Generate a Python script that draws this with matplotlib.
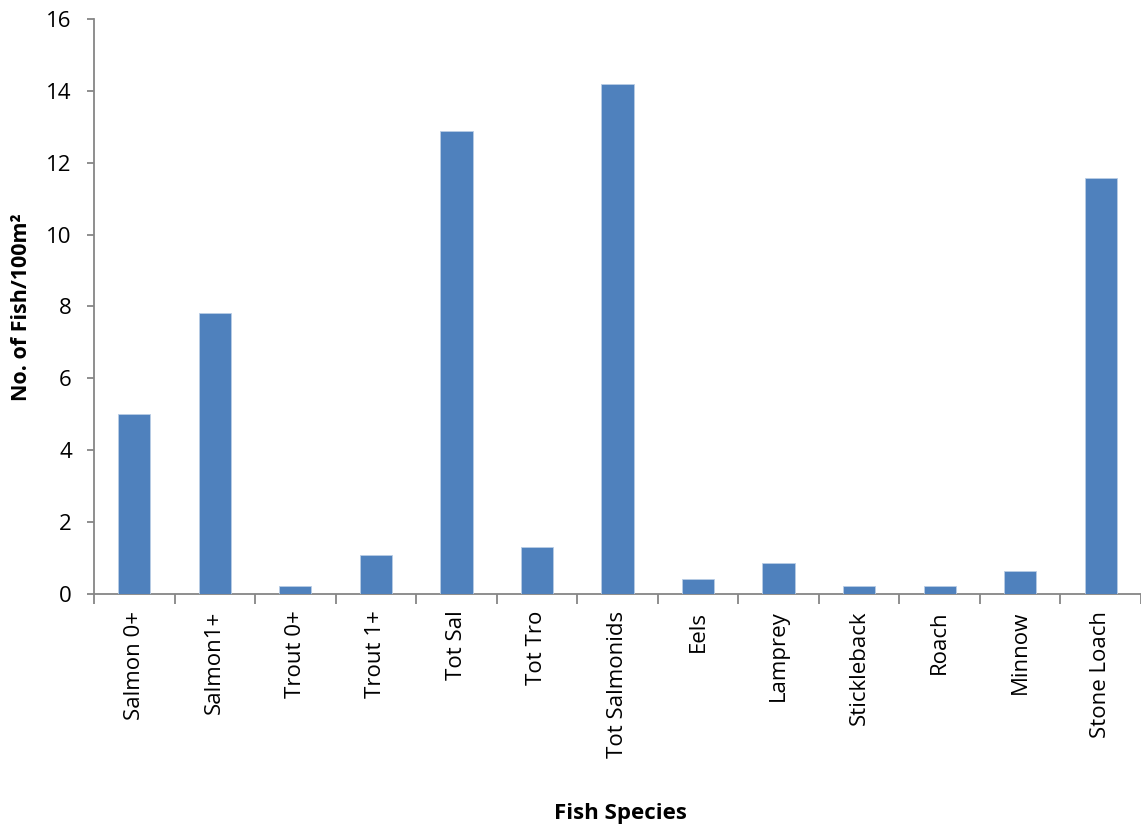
import matplotlib
matplotlib.use("Agg")
import matplotlib.pyplot as plt
import numpy as np

species = ["Salmon 0+", "Salmon1+", "Trout 0+", "Trout 1+", "Tot Sal", "Tot Tro",
           "Tot Salmonids", "Eels", "Lamprey", "Stickleback", "Roach", "Minnow",
           "Stone Loach"]
density = [5.0, 7.83, 0.22, 1.09, 12.87, 1.3, 14.18, 0.43, 0.87, 0.22, 0.22, 0.65, 11.57]
y_ticks = [0, 2, 4, 6, 8, 10, 12, 14, 16]

plt.rcParams['font.family'] = ['Open Sans', 'DejaVu Sans']

fig = plt.figure(figsize=(11.41, 8.30), dpi=100)
ax = fig.add_axes([94 / 1141, 1 - 594 / 830, 1 - 94 / 1141, (594 - 19) / 830])

x = np.arange(len(species))
ax.bar(x, density, width=0.4, color="#4F81BD", edgecolor="#B9CDE5", linewidth=0.6, zorder=3)

axis_grey = "#868686"
ax.set_xlim(-0.5, len(species) - 0.5)
ax.set_ylim(0, 16)
ax.set_yticks(y_ticks)
ax.set_yticklabels([str(v) for v in y_ticks], fontsize=16)

ax.set_xticks(x)
ax.set_xticklabels(species, rotation=90, fontsize=16)
ax.tick_params(axis="x", which="major", length=0, pad=12)
ax.set_xticks(np.arange(-0.5, len(species), 1.0), minor=True)
ax.tick_params(axis="x", which="minor", length=7, color=axis_grey, width=1.3, direction="out")
ax.tick_params(axis="y", length=5, color=axis_grey, width=1.3, direction="out", pad=11)

for side in ("top", "right"):
    ax.spines[side].set_visible(False)
for side in ("left", "bottom"):
    ax.spines[side].set_color(axis_grey)
    ax.spines[side].set_linewidth(1.3)

fig.text(22 / 1141, 1 - 307 / 830, "No. of Fish/100m²", rotation=90, fontsize=15.5,
         fontweight="bold", ha="center", va="center")
fig.text(620 / 1141, 1 - 813 / 830, "Fish Species", fontsize=16,
         fontweight="bold", ha="center", va="center")

fig.savefig("out.png", dpi=100)
